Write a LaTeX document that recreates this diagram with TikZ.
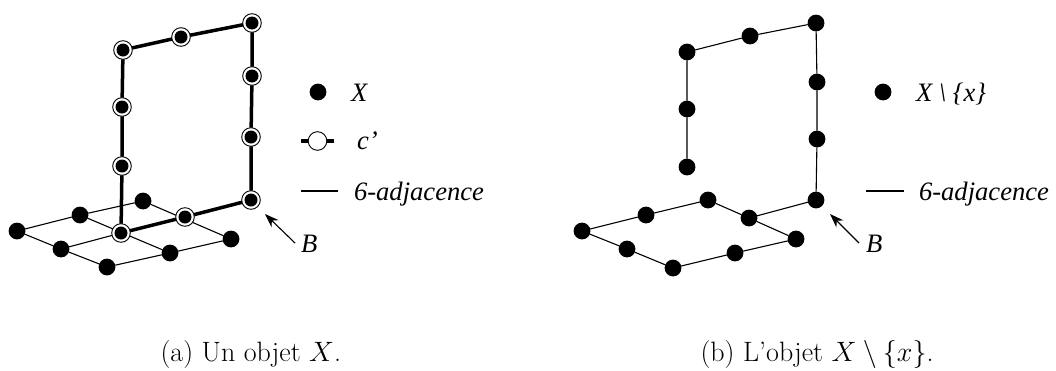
\documentclass[tikz,border=0pt]{standalone}
\usepackage{fix-cm}
\usepackage{fontspec}
\newfontfamily\labfont{Liberation Serif}
\usetikzlibrary{arrows.meta}
\tikzset{
 x=1pt,y=-1pt,
 dot/.style={circle,fill=black,draw=none,minimum size=16.8pt,inner sep=0pt,outer sep=0pt},
 ringo/.style={circle,fill=white,draw=black,line width=0.9pt,minimum size=18.6pt,inner sep=0pt,outer sep=0pt},
 thinl/.style={line width=1.1pt,black},
 thickl/.style={line width=3.5pt,black},
 lab/.style={inner sep=0pt,outer sep=0pt,anchor=base west,font=\labfont\itshape\fontsize{26.6}{30}\selectfont},
 captext/.style={inner sep=0pt,outer sep=0pt,anchor=base west,font=\fontsize{28}{32}\selectfont},
 arr/.style={line width=1.1pt,-{Stealth[length=14pt,width=10pt]}},
}
\begin{document}
\begin{tikzpicture}
\useasboundingbox (0,0) rectangle (1056,370);
% --- (a) floor
\node[dot] (a1) at (17,231) {};
\node[dot] (a2) at (80,215) {};
\node[dot] (a3) at (143,201) {};
\node[dot] (a4) at (61,249) {};
\node[dot] (a5) at (107,267) {};
\node[dot] (a6) at (170,253) {};
\node[dot] (a7) at (231,239) {};
\coordinate (cen) at (121,233);
\draw[thinl] (a1)--(a2)--(a3) (a1)--(a4)--(a5)--(a6)--(a7) (a3)--(a7);
\draw[thinl] (a4)--(cen) (a2)--(a6);
% --- (a) curve
\node[ringo] (cAr) at (121,233) {};
\node[ringo] (cBr) at (185,217) {};
\node[ringo] (cCr) at (251,200) {};
\node[ringo] (cDr) at (251,137) {};
\node[ringo] (cEr) at (252,76) {};
\node[ringo] (cFr) at (252,23) {};
\node[ringo] (cGr) at (181,37) {};
\node[ringo] (cHr) at (123,50) {};
\node[ringo] (cIr) at (122,107) {};
\node[ringo] (cJr) at (122,166) {};
\draw[thickl] (cAr)--(cBr)--(cCr)--(cDr)--(cEr)--(cFr)--(cGr)--(cHr)--(cIr)--(cJr)--(cAr);
\foreach \n/\p in {cA/{(121,233)},cB/{(185,217)},cC/{(251,200)},cD/{(251,137)},cE/{(252,76)},cF/{(252,23)},cG/{(181,37)},cH/{(123,50)},cI/{(122,107)},cJ/{(122,166)}}
  \node[dot,minimum size=13pt] (\n) at \p {};
% --- (a) legend
\node[dot] (lx) at (318,92) {};
\node[lab] (lxt) at (351,101) {X};
\coordinate (lcl) at (301,141);
\coordinate (lcr) at (334,141);
\node[ringo] (lc) at (317.5,141) {};
\draw[thickl] (lcl)--(lc) (lc)--(lcr);
\node[lab] (lct) at (357,149) {c’};
\coordinate (l6a) at (301,191);
\coordinate (l6b) at (338,191);
\draw[thinl] (l6a)--(l6b);
\node[lab] (l6t) at (354,200) {6-adjacence};
\node[lab] (bA) at (301,252) {B};
\coordinate (bAs) at (295,243);
\coordinate (bAe) at (265,214);
\draw[arr] (bAs)--(bAe);
\node[captext] (capA) at (160.5,361.5) {(a) Un objet $X$.};
% --- (b) floor
\node[dot] (b1) at (582,231) {};
\node[dot] (b2) at (646,215) {};
\node[dot] (b3) at (708,200) {};
\node[dot] (b4) at (749,218) {};
\node[dot] (b5) at (796,239) {};
\node[dot] (b6) at (627,249) {};
\node[dot] (b7) at (673,268) {};
\node[dot] (b8) at (735,253) {};
\node[dot] (b9) at (816,200) {};
\node[dot] (b10) at (817,139) {};
\node[dot] (b11) at (817,82) {};
\node[dot] (b12) at (816,23) {};
\node[dot] (b13) at (750,36) {};
\node[dot] (b14) at (687,52) {};
\node[dot] (b15) at (687,109) {};
\node[dot] (b16) at (687,167) {};
\draw[thinl] (b1)--(b2)--(b3)--(b4)--(b5) (b1)--(b6)--(b7)--(b8)--(b5)
 (b4)--(b9)--(b10)--(b11)--(b12)--(b13)--(b14)--(b15)--(b16);
% --- (b) legend
\node[dot] (rx) at (883,92) {};
\node[lab] (rxt) at (916,101) {X \textbackslash\ \{x\}};
\coordinate (r6a) at (866,191);
\coordinate (r6b) at (904,191);
\draw[thinl] (r6a)--(r6b);
\node[lab] (r6t) at (919,200) {6-adjacence};
\node[lab] (bB) at (866,252) {B};
\coordinate (bBs) at (859,243);
\coordinate (bBe) at (830,214);
\draw[arr] (bBs)--(bBe);
\node[captext] (capB) at (700.5,361.5) {(b) L’objet $X\setminus\{x\}$.};
\end{tikzpicture}
\end{document}
